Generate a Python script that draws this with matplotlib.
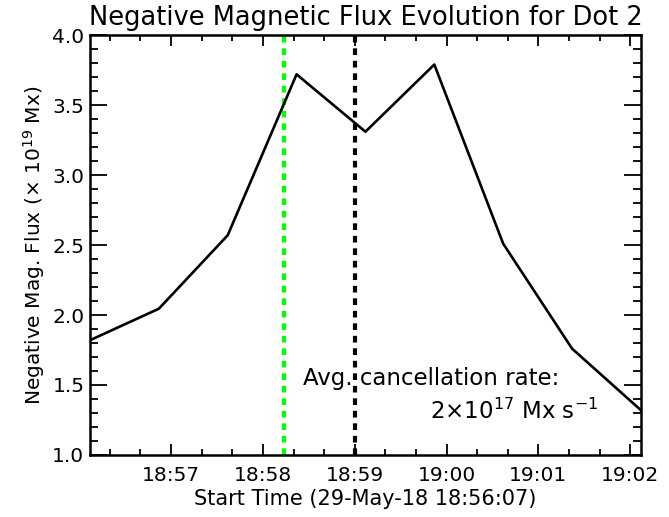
#!/usr/bin/env python3

from datetime import datetime
import matplotlib
matplotlib.use("Agg")
import matplotlib.pyplot as plt
import matplotlib.dates as mdates

# sample times and negative flux (x 1e19 Mx)
times = ["18:56:07", "18:56:52", "18:57:37", "18:58:22", "18:59:07",
         "18:59:52", "19:00:37", "19:01:22", "19:02:07"]
flux = [1.82, 2.045, 2.57, 3.72, 3.31, 3.79, 2.51, 1.76, 1.32]

green_time = "18:58:14"
black_time = "18:59:00"
x_start, x_end = "18:56:07", "19:02:07"


def to_dt(s):
    return datetime.strptime("2018-05-29 " + s, "%Y-%m-%d %H:%M:%S")


def main() -> None:
    plt.rcParams["font.family"] = ["DejaVu Sans"]
    fig = plt.figure(figsize=(6.69, 5.17), dpi=100)
    ax = fig.add_axes([0.1345, 0.12, 0.8235, 0.812])

    t = [to_dt(s) for s in times]
    ax.plot(t, flux, color="black", linewidth=1.9, zorder=3)

    ax.axvline(to_dt(green_time), color="#00ff00", linewidth=3,
               linestyle=(0, (1.6, 1.4)), zorder=2)
    ax.axvline(to_dt(black_time), color="black", linewidth=3,
               linestyle=(0, (1.6, 1.4)), zorder=2)

    ax.set_xlim(to_dt(x_start), to_dt(x_end))
    ax.set_ylim(1.0, 4.0)

    ax.xaxis.set_major_locator(mdates.MinuteLocator())
    ax.xaxis.set_minor_locator(mdates.SecondLocator(bysecond=[20, 40]))
    ax.xaxis.set_major_formatter(mdates.DateFormatter("%H:%M"))
    ax.set_yticks([1.0, 1.5, 2.0, 2.5, 3.0, 3.5, 4.0])
    ax.set_yticks([1.0 + 0.1 * i for i in range(31)], minor=True)
    ax.yaxis.set_major_formatter(matplotlib.ticker.FormatStrFormatter("%.1f"))

    ax.tick_params(which="both", direction="in", top=True, right=True,
                   width=1.3, labelsize=14.5)
    ax.tick_params(axis="x", which="major", length=8, pad=8)
    ax.tick_params(axis="x", which="minor", length=4)
    ax.tick_params(axis="y", which="major", length=12, pad=4)
    ax.tick_params(axis="y", which="minor", length=6)
    for sp in ax.spines.values():
        sp.set_linewidth(1.8)

    ax.set_title("Negative Magnetic Flux Evolution for Dot 2", fontsize=18.5, pad=7)
    ax.set_xlabel("Start Time (29-May-18 18:56:07)", fontsize=15, labelpad=2.5)
    ax.set_ylabel(r"Negative Mag. Flux ($\times$ 10$^{19}$ Mx)", fontsize=14.5, labelpad=4)

    ax.text(0.387, 0.183, "Avg. cancellation rate:", transform=ax.transAxes,
            fontsize=16.5, ha="left", va="center")
    ax.text(0.922, 0.105, r"2$\times$10$^{17}$ Mx s$^{-1}$", transform=ax.transAxes,
            fontsize=16.5, ha="right", va="center")

    fig.savefig("out.png", dpi=100)


if __name__ == "__main__":
    main()
